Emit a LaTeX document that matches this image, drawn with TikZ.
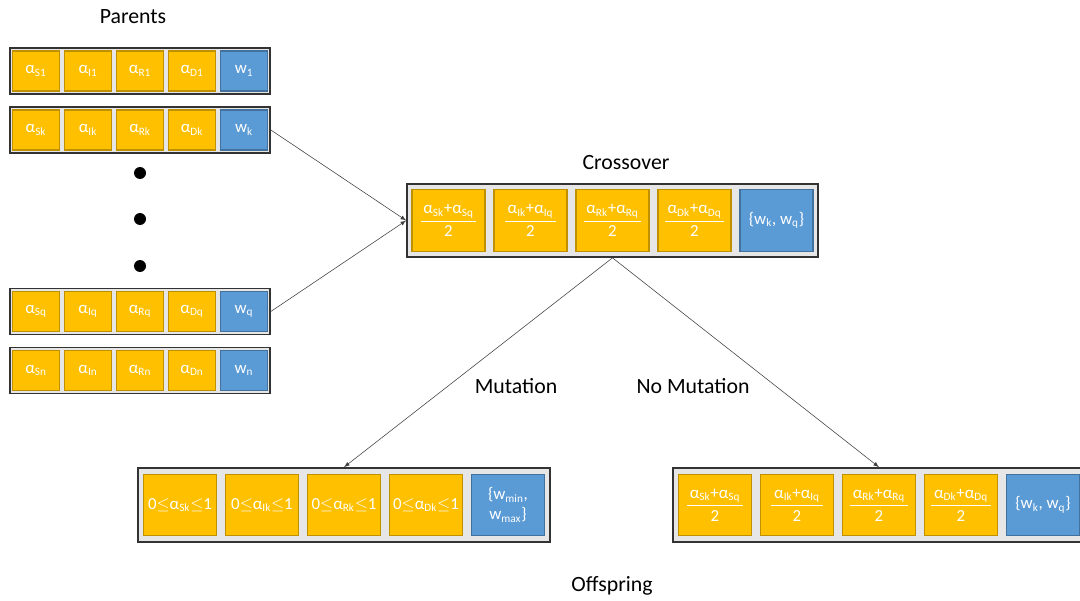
\documentclass[tikz,border=0pt]{standalone}
\usepackage{fontspec}
\setmainfont{Carlito}
\usepackage{tikz}
\usetikzlibrary{shapes.geometric, arrows}
\definecolor{cellyellow}{HTML}{FFC000}
\definecolor{yellowedge}{HTML}{BF9000}
\definecolor{cellblue}{HTML}{5B9BD5}
\definecolor{blueedge}{HTML}{41719C}
\definecolor{rowgray}{HTML}{E7E6E6}
\tikzstyle{rowbox} = [rectangle, draw=black!80, line width=1.2pt, fill=rowgray]
\tikzstyle{yellowbox} = [rectangle, minimum width=1.175cm, minimum height=1cm, inner sep=0pt, align=center, draw=yellowedge, line width=0.8pt, fill=cellyellow, text=white, font=\fontsize{12}{14}\selectfont]
\tikzstyle{bluebox} = [yellowbox, draw=blueedge, fill=cellblue]
\tikzstyle{bigyellow} = [yellowbox, minimum width=1.825cm, minimum height=1.53cm]
\tikzstyle{bigblue} = [bluebox, minimum width=1.825cm, minimum height=1.53cm]
\tikzstyle{dot} = [circle, fill=black, minimum size=0.3cm, inner sep=0pt]
\tikzstyle{label} = [font=\fontsize{15.5}{18}\selectfont]
\tikzstyle{arrow} = [draw=black!75, line width=0.4pt, ->, >=latex]

\begin{document}
\begin{tikzpicture}[node distance=1.3cm, align=center]
      \useasboundingbox (0,0) rectangle (27,15);
      % parents
      \node (parents) [label] at (3.325,14.575) {Parents};
      \node (row1) [rowbox, minimum width=6.5cm, minimum height=1.15cm] at (3.5,13.225) {};
      \node (r1r) [yellowbox] at (row1) {α\textsubscript{R1}};
      \node (r1i) [yellowbox, left of=r1r] {α\textsubscript{I1}};
      \node (r1s) [yellowbox, left of=r1i] {α\textsubscript{S1}};
      \node (r1d) [yellowbox, right of=r1r] {α\textsubscript{D1}};
      \node (r1w) [bluebox, right of=r1d] {w\textsubscript{1}};

      \node (rowk) [rowbox, minimum width=6.5cm, minimum height=1.15cm] at (3.5,11.75) {};
      \node (rkr) [yellowbox] at (rowk) {α\textsubscript{Rk}};
      \node (rki) [yellowbox, left of=rkr] {α\textsubscript{Ik}};
      \node (rks) [yellowbox, left of=rki] {α\textsubscript{Sk}};
      \node (rkd) [yellowbox, right of=rkr] {α\textsubscript{Dk}};
      \node (rkw) [bluebox, right of=rkd] {w\textsubscript{k}};

      \node (dot1) [dot] at (3.5,10.675) {};
      \node (dot2) [dot] at (3.5,9.525) {};
      \node (dot3) [dot] at (3.5,8.35) {};

      \node (rowq) [rowbox, minimum width=6.5cm, minimum height=1.15cm] at (3.5,7.2125) {};
      \node (rqr) [yellowbox] at (rowq) {α\textsubscript{Rq}};
      \node (rqi) [yellowbox, left of=rqr] {α\textsubscript{Iq}};
      \node (rqs) [yellowbox, left of=rqi] {α\textsubscript{Sq}};
      \node (rqd) [yellowbox, right of=rqr] {α\textsubscript{Dq}};
      \node (rqw) [bluebox, right of=rqd] {w\textsubscript{q}};

      \node (rown) [rowbox, minimum width=6.5cm, minimum height=1.15cm] at (3.5,5.7375) {};
      \node (rnr) [yellowbox] at (rown) {α\textsubscript{Rn}};
      \node (rni) [yellowbox, left of=rnr] {α\textsubscript{In}};
      \node (rns) [yellowbox, left of=rni] {α\textsubscript{Sn}};
      \node (rnd) [yellowbox, right of=rnr] {α\textsubscript{Dn}};
      \node (rnw) [bluebox, right of=rnd] {w\textsubscript{n}};

      % crossover
      \node (crosslabel) [label] at (15.65,10.925) {Crossover};
      \node (cross) [rowbox, minimum width=10.275cm, minimum height=1.825cm] at (15.3125,9.4875) {};
      \node (cr) [bigyellow] at (cross) {$\displaystyle\frac{\mbox{\,α\textsubscript{Rk}+α\textsubscript{Rq}\,}}{\mbox{2}}$};
      \node (ci) [bigyellow, left of=cr, xshift=-0.75cm] {$\displaystyle\frac{\mbox{\,α\textsubscript{Ik}+α\textsubscript{Iq}\,}}{\mbox{2}}$};
      \node (cs) [bigyellow, left of=ci, xshift=-0.75cm] {$\displaystyle\frac{\mbox{\,α\textsubscript{Sk}+α\textsubscript{Sq}\,}}{\mbox{2}}$};
      \node (cd) [bigyellow, right of=cr, xshift=0.75cm] {$\displaystyle\frac{\mbox{\,α\textsubscript{Dk}+α\textsubscript{Dq}\,}}{\mbox{2}}$};
      \node (cw) [bigblue, right of=cd, xshift=0.75cm] {\{w\textsubscript{k}, w\textsubscript{q}\}};

      % offspring
      \node (mutlabel) [label] at (12.9,5.35) {Mutation};
      \node (nomutlabel) [label] at (17.325,5.35) {No Mutation};
      \node (mut) [rowbox, minimum width=10.3cm, minimum height=1.85cm] at (8.6,2.375) {};
      \node (mr) [bigyellow] at (mut) {0$\leq$α\textsubscript{Rk}$\leq$1};
      \node (mi) [bigyellow, left of=mr, xshift=-0.75cm] {0$\leq$α\textsubscript{Ik}$\leq$1};
      \node (ms) [bigyellow, left of=mi, xshift=-0.75cm] {0$\leq$α\textsubscript{Sk}$\leq$1};
      \node (md) [bigyellow, right of=mr, xshift=0.75cm] {0$\leq$α\textsubscript{Dk}$\leq$1};
      \node (mw) [bigblue, right of=md, xshift=0.75cm] {\{w\textsubscript{min},\\ w\textsubscript{max}\}};

      \node (nomut) [rowbox, minimum width=10.3cm, minimum height=1.85cm] at (21.975,2.375) {};
      \node (nr) [bigyellow] at (nomut) {$\displaystyle\frac{\mbox{\,α\textsubscript{Rk}+α\textsubscript{Rq}\,}}{\mbox{2}}$};
      \node (ni) [bigyellow, left of=nr, xshift=-0.75cm] {$\displaystyle\frac{\mbox{\,α\textsubscript{Ik}+α\textsubscript{Iq}\,}}{\mbox{2}}$};
      \node (ns) [bigyellow, left of=ni, xshift=-0.75cm] {$\displaystyle\frac{\mbox{\,α\textsubscript{Sk}+α\textsubscript{Sq}\,}}{\mbox{2}}$};
      \node (nd) [bigyellow, right of=nr, xshift=0.75cm] {$\displaystyle\frac{\mbox{\,α\textsubscript{Dk}+α\textsubscript{Dq}\,}}{\mbox{2}}$};
      \node (nw) [bigblue, right of=nd, xshift=0.75cm] {\{w\textsubscript{k}, w\textsubscript{q}\}};
      \node (offspring) [label] at (15.3,0.35) {Offspring};

      \draw [arrow] (rowk.east) -- (cross.west);
      \draw [arrow] (rowq.east) -- (cross.west);
      \draw [arrow] (cross.south) -- (mut.north);
      \draw [arrow] (cross.south) -- (nomut.north);
    \end{tikzpicture}
\end{document}
